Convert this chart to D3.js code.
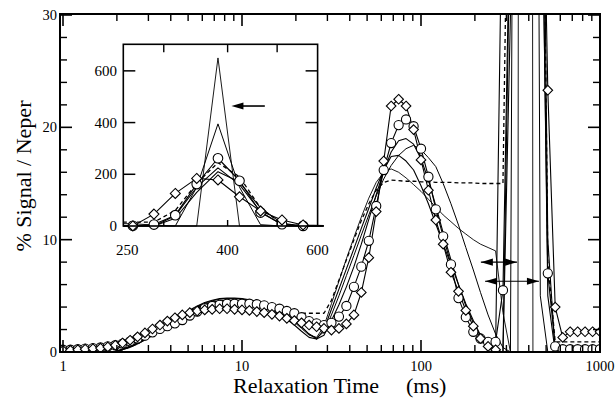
<!DOCTYPE html>
<html><head><meta charset="utf-8">
<script src="https://cdn.jsdelivr.net/npm/d3@7"></script>
<style>
body{margin:0;background:#fff}
svg{display:block}
</style>
</head><body>
<svg id="chart" width="615" height="405"></svg>
<script>
// Relaxation-time grid (ms), 24 points per decade
const relaxTime = [
  1, 1.10, 1.21, 1.33, 1.47, 1.62, 1.78, 1.96, 2.15, 2.37, 2.61, 2.87,
  3.16, 3.48, 3.83, 4.22, 4.64, 5.11, 5.62, 6.19, 6.81, 7.50, 8.25, 9.09,
  10, 11.0, 12.1, 13.3, 14.7, 16.2, 17.8, 19.6, 21.5, 23.7, 26.1, 28.7,
  31.6, 34.8, 38.3, 42.2, 46.4, 51.1, 56.2, 61.9, 68.1, 75.0, 82.5, 90.9,
  100, 110, 121, 133, 147, 162, 178, 196, 215, 237, 261, 287,
  316, 348, 383, 422, 464, 511, 562, 619, 681, 750, 825, 909,
  1000
];

// % signal per neper for each inversion
const circleSeries = [
  0.2, 0.2, 0.25, 0.3, 0.35, 0.4, 0.5, 0.6, 0.75, 0.95, 1.2, 1.45,
  1.75, 2.05, 2.3, 2.55, 2.85, 3.25, 3.6, 3.9, 4.1, 4.2, 4.3, 4.3,
  4.3, 4.3, 4.25, 4.15, 4.0, 3.85, 3.65, 3.45, 3.1, 2.75, 2.55, 2.4,
  2.6, 3.15, 4.1, 5.8, 7.6, 9.9, 13.0, 16.2, 18.6, 20.2, 20.7, 20.1,
  18.1, 15.6, 12.7, 10.3, 7.8, 4.8, 3.1, 1.8, 1.2, 0.9, 0.9, 5.5,
  42, 162, 262, 175, 52, 7.0, 0.5, 0.25, 0.25, 0.25, 0.25, 0.25,
  0.25
];
const diamondSeries = [
  0.15, 0.15, 0.2, 0.25, 0.3, 0.35, 0.45, 0.6, 0.8, 1.05, 1.35, 1.7,
  2.05, 2.4, 2.75, 3.05, 3.3, 3.5, 3.65, 3.75, 3.8, 3.85, 3.85, 3.8,
  3.75, 3.7, 3.6, 3.5, 3.35, 3.2, 3.0, 2.8, 2.6, 2.4, 2.25, 2.1,
  1.95, 2.1, 2.5, 3.3, 5.3, 8.4, 12.5, 17.0, 21.9, 22.5, 21.9, 19.8,
  17.1, 14.4, 11.75, 9.6, 7.1, 5.4, 3.7, 2.3, 1.2, 0.5, 0.2, 46,
  126, 184, 178, 113, 58, 23.3, 4.0, 1.3, 1.8, 1.8, 1.8, 1.8,
  1.8
];
const wideSeries = [
  0, 0, 0, 0, 0, 0, 0, 0.05, 0.2, 0.45, 0.75, 1.1,
  1.5, 1.95, 2.4, 2.85, 3.3, 3.7, 4.05, 4.35, 4.55, 4.7, 4.75, 4.75,
  4.7, 4.6, 4.45, 4.25, 4.0, 3.65, 3.25, 2.75, 2.2, 1.6, 1.25, 1.8,
  3.3, 5.0, 6.8, 8.6, 10.4, 12.2, 13.9, 15.4, 16.6, 17.5, 18.1, 18.4,
  18.0, 17.3, 16.5, 15.0, 13.2, 11.3, 9.3, 7.3, 5.3, 3.3, 1.6, 0.4,
  0, 150, 395, 150, 5, 0, 0, 0, 0, 0, 0, 0,
  0
];
const solidSeriesA = [
  0, 0, 0, 0, 0, 0, 0, 0.05, 0.25, 0.5, 0.8, 1.15,
  1.55, 2.0, 2.45, 2.9, 3.35, 3.75, 4.1, 4.4, 4.6, 4.75, 4.8, 4.8,
  4.75, 4.65, 4.5, 4.3, 4.05, 3.7, 3.3, 2.8, 2.25, 1.6, 1.15, 1.5,
  2.8, 4.2, 5.8, 7.6, 9.6, 11.8, 14.0, 16.1, 17.8, 18.8, 19.0, 18.5,
  17.2, 15.3, 13.0, 10.6, 8.2, 6.0, 4.1, 2.6, 1.4, 0.6, 0.2, 0,
  40, 150, 225, 160, 55, 5, 0, 0, 0, 0, 0, 0,
  0
];
const solidSeriesB = [
  0, 0, 0, 0, 0, 0, 0, 0.05, 0.25, 0.5, 0.8, 1.15,
  1.55, 2.0, 2.45, 2.9, 3.3, 3.7, 4.0, 4.25, 4.45, 4.55, 4.6, 4.6,
  4.5, 4.4, 4.2, 3.95, 3.65, 3.3, 2.9, 2.4, 1.85, 1.3, 1.15, 2.0,
  3.8, 5.6, 7.4, 9.2, 11.0, 12.8, 14.6, 16.2, 17.4, 17.5, 17.0, 16.2,
  14.8, 13.2, 11.4, 9.6, 7.8, 6.0, 4.3, 2.8, 1.5, 0.5, 0, 0,
  30, 130, 210, 170, 70, 10, 0, 0, 0, 0, 0, 0,
  0
];
const kneeSeries = [
  0, 0, 0, 0, 0, 0, 0, 0.05, 0.2, 0.4, 0.7, 1.05,
  1.45, 1.9, 2.35, 2.8, 3.2, 3.6, 3.95, 4.2, 4.4, 4.5, 4.55, 4.5,
  4.45, 4.35, 4.2, 4.0, 3.75, 3.45, 3.1, 2.65, 2.1, 1.5, 1.3, 2.3,
  4.3, 6.3, 8.3, 10.2, 12.0, 13.7, 15.1, 16.0, 16.3, 16.0, 15.5, 14.9,
  14.3, 13.6, 12.9, 12.2, 11.6, 11.0, 10.5, 10.0, 9.6, 9.3, 9.0, 3.5,
  0, 0, 650, 0, 0, 0, 0, 0, 0, 0, 0, 0,
  0
];
const dashedSeries = [
  0, 0, 0, 0, 0, 0, 0, 0.05, 0.2, 0.45, 0.75, 1.1,
  1.5, 1.95, 2.4, 2.85, 3.25, 3.6, 3.9, 4.15, 4.3, 4.4, 4.45, 4.45,
  4.4, 4.3, 4.15, 4.0, 3.85, 3.7, 3.6, 3.5, 3.45, 3.45, 3.45, 3.45,
  4.6, 6.4, 8.2, 10.0, 11.7, 13.2, 14.4, 15.1, 15.3, 15.25, 15.2, 15.2,
  15.15, 15.15, 15.1, 15.1, 15.1, 15.05, 15.05, 15.05, 15.0, 15.0, 15.0, 15.0,
  60, 165, 245, 190, 70, 8, 0.9, 0.9, 0.9, 0.9, 0.9, 0.9,
  0.9
];

// Axis ticks and labels
const mainXLabels = [1, 10, 100, 1000];
const mainXMinor = [2,3,4,5,6,7,8,9,20,30,40,50,60,70,80,90,200,300,400,500,600,700,800,900];
const mainYLabels = [0, 10, 20, 30];
const mainYMinor = [2,4,6,8,12,14,16,18,22,24,26,28];
const insetXLabels = [250, 400, 600];
const insetXTicks = [300, 400, 500];
const insetYLabels = [0, 200, 400, 600];

// Double-headed arrows in the main panel and the pointer in the inset
const mainArrows = [
  {value: 8.0, from: 216, to: 344},
  {value: 6.3, from: 228, to: 456}
];
const insetArrow = {value: 464, tip: 407, tail: 473};

const FONT = '"Liberation Serif"';
const svg = d3.select("#chart");

function label(g, txt, x0, y0, size, anchor) {
  return g.append("text").attr("x", x0).attr("y", y0)
    .attr("font-size", size).attr("text-anchor", anchor || "start")
    .attr("fill", "#000").style("font-family", FONT).text(txt);
}

// ---------- main panel ----------
const P = {l: 60, r: 600, t: 14, b: 352};
const x = d3.scaleLog().domain([1, 1000]).range([63, 600]);
const y = d3.scaleLinear().domain([0, 30]).range([352, 15]);

const defs = svg.append("defs");
defs.append("clipPath").attr("id", "clipMain")
  .append("rect").attr("x", P.l).attr("y", P.t).attr("width", P.r - P.l).attr("height", P.b - P.t);

const main = svg.append("g");
const plot = main.append("g").attr("clip-path", "url(#clipMain)");

function drawSeries(g, xs, ys, opts) {
  const lineGen = d3.line().x((d, i) => xs(relaxTime[i])).y(d => ys(d));
  const specs = [
    {data: kneeSeries, w: 0.9},
    {data: wideSeries, w: 1.0},
    {data: solidSeriesB, w: 1.1},
    {data: solidSeriesA, w: 1.1},
    {data: dashedSeries, w: 1.3, dash: "4,3"},
    {data: circleSeries, w: 1.1},
    {data: diamondSeries, w: 1.1}
  ];
  specs.forEach(s => {
    g.append("path").attr("d", lineGen(s.data))
      .attr("fill", "none").attr("stroke", "#000")
      .attr("stroke-width", s.w)
      .attr("stroke-dasharray", s.dash || null)
      .attr("stroke-linejoin", "round");
  });
  const inRange = (v, i) => {
    const t = relaxTime[i];
    return v <= ys.domain()[1] && t >= xs.domain()[0] && t <= xs.domain()[1];
  };
  g.selectAll(null).data(circleSeries.map((v, i) => ({v, i})).filter(d => inRange(d.v, d.i)))
    .join("circle")
    .attr("cx", d => xs(relaxTime[d.i])).attr("cy", d => ys(d.v))
    .attr("r", opts.r).attr("fill", "#fff").attr("stroke", "#000").attr("stroke-width", 1.1);
  const s = opts.d;
  g.selectAll(null).data(diamondSeries.map((v, i) => ({v, i})).filter(d => inRange(d.v, d.i)))
    .join("path")
    .attr("d", d => {
      const cx = xs(relaxTime[d.i]), cy = ys(d.v);
      return `M${cx},${cy - s}L${cx + s},${cy}L${cx},${cy + s}L${cx - s},${cy}Z`;
    })
    .attr("fill", "#fff").attr("stroke", "#000").attr("stroke-width", 1.1);
}

drawSeries(plot, x, y, {r: 4.6, d: 4.8});

function arrowHead(g, tipX, tipY, dir, len, hw) {
  g.append("path")
    .attr("d", `M${tipX},${tipY}L${tipX - dir * len},${tipY - hw}L${tipX - dir * len},${tipY + hw}Z`)
    .attr("fill", "#000");
}
mainArrows.forEach(a => {
  const x0 = x(a.from), x1 = x(a.to), yy = y(a.value);
  plot.append("line").attr("x1", x0).attr("x2", x1).attr("y1", yy).attr("y2", yy)
    .attr("stroke", "#000").attr("stroke-width", 1.2);
  arrowHead(plot, x0, yy, -1, 12, 3.6);
  arrowHead(plot, x1, yy, 1, 12, 3.6);
});

// frame and ticks
main.append("rect").attr("x", P.l).attr("y", P.t).attr("width", P.r - P.l).attr("height", P.b - P.t)
  .attr("fill", "none").attr("stroke", "#000").attr("stroke-width", 2);

function vTick(g, xx, y0, len, w) {
  g.append("line").attr("x1", xx).attr("x2", xx).attr("y1", y0).attr("y2", y0 + len)
    .attr("stroke", "#000").attr("stroke-width", w);
}
function hTick(g, yy, x0, len, w) {
  g.append("line").attr("x1", x0).attr("x2", x0 + len).attr("y1", yy).attr("y2", yy)
    .attr("stroke", "#000").attr("stroke-width", w);
}
mainXLabels.forEach(t => { vTick(main, x(t), P.b, -12, 1.6); vTick(main, x(t), P.t, 12, 1.6); });
mainXMinor.forEach(t => { vTick(main, x(t), P.b, -7, 1.4); vTick(main, x(t), P.t, 7, 1.4); });
mainYLabels.forEach(v => { hTick(main, y(v), P.l, 12, 1.6); hTick(main, y(v), P.r, -12, 1.6); });
mainYMinor.forEach(v => { hTick(main, y(v), P.l, 7, 1.4); hTick(main, y(v), P.r, -7, 1.4); });

mainXLabels.forEach(t => label(main, t, x(t), 371, 14.5, "middle"));
mainYLabels.forEach(v => label(main, v, 57, y(v) + 5, 14.5, "end"));

label(svg, "% Signal / Neper", 0, 0, 22, "middle").attr("transform", "translate(31,176) rotate(-90)");
label(svg, "Relaxation Time", 233, 393, 22);
label(svg, "(ms)", 406, 393, 22);

// ---------- inset: 250–600 ms ----------
const I = {l: 123.3, r: 317.6, t: 44.3, b: 226};
const xi = d3.scaleLog().domain([250, 600]).range([I.l, I.r]);
const yi = d3.scaleLinear().domain([0, 700]).range([I.b, 45]);

defs.append("clipPath").attr("id", "clipInset")
  .append("rect").attr("x", I.l).attr("y", I.t - 6).attr("width", I.r - I.l + 6).attr("height", I.b - I.t + 12);

const inset = svg.append("g");
inset.append("rect").attr("x", I.l).attr("y", I.t).attr("width", I.r - I.l).attr("height", I.b - I.t)
  .attr("fill", "#fff");
const insetPlot = inset.append("g").attr("clip-path", "url(#clipInset)");
drawSeries(insetPlot, xi, yi, {r: 4.8, d: 5});

{
  const yy = yi(insetArrow.value), x0 = xi(insetArrow.tip), x1 = xi(insetArrow.tail);
  inset.append("line").attr("x1", x0 + 8).attr("x2", x1).attr("y1", yy).attr("y2", yy)
    .attr("stroke", "#000").attr("stroke-width", 1.6);
  arrowHead(inset, x0, yy, -1, 12, 3.4);
}

inset.append("rect").attr("x", I.l).attr("y", I.t).attr("width", I.r - I.l).attr("height", I.b - I.t)
  .attr("fill", "none").attr("stroke", "#000").attr("stroke-width", 1.6);
insetYLabels.slice(1).forEach(v => { hTick(inset, yi(v), I.l, 12, 1.5); hTick(inset, yi(v), I.r, -12, 1.5); });
insetXTicks.forEach(t => { vTick(inset, xi(t), I.t, 8, 1.4); vTick(inset, xi(t), I.b, -6, 1.4); });

insetYLabels.forEach(v => label(inset, v, 117, yi(v) + 5, 15, "end"));
insetXLabels.forEach(t => label(inset, t, xi(t) + (t === 250 ? 4 : 0), 255, 15, "middle"));
</script>
</body></html>
